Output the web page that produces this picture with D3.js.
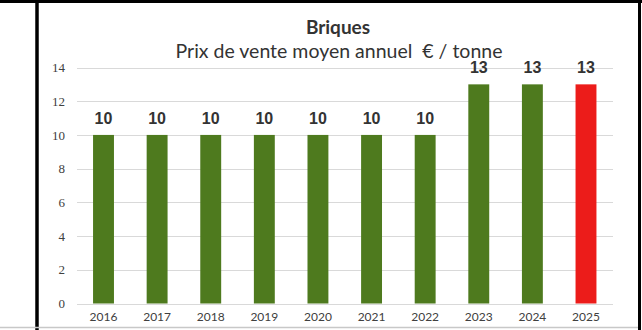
<!DOCTYPE html>
<html>
<head>
<meta charset="utf-8">
<script src="https://cdn.jsdelivr.net/npm/d3@7"></script>
<style>
  html, body { margin: 0; padding: 0; background: #fff; }
  svg { display: block; }
</style>
</head>
<body>
<svg id="chart" width="642" height="330"></svg>
<script>
// Average annual selling price of bricks, € per tonne
const years = ["2016", "2017", "2018", "2019", "2020", "2021", "2022", "2023", "2024", "2025"];
const prices = [10, 10, 10, 10, 10, 10, 10, 13, 13, 13];
const yTicks = [0, 2, 4, 6, 8, 10, 12, 14];
const highlightYear = "2025";
const title = "Briques";
const subtitle = "Prix de vente moyen annuel  € / tonne";

const data = years.map((y, i) => ({ year: y, value: prices[i] }));

const svg = d3.select("#chart");
const W = 642, H = 330;

svg.append("rect").attr("width", W).attr("height", H).attr("fill", "#fff");

// panel frame
const frame = svg.append("g");
frame.append("line").attr("x1", 0).attr("x2", W).attr("y1", 1.5).attr("y2", 1.5)
  .attr("stroke", "#000").attr("stroke-width", 3);
frame.append("line").attr("x1", 37).attr("x2", 37).attr("y1", 0).attr("y2", H)
  .attr("stroke", "#000").attr("stroke-width", 3.5);
frame.append("line").attr("x1", 639.5).attr("x2", 639.5).attr("y1", 0).attr("y2", H)
  .attr("stroke", "#000").attr("stroke-width", 3);
frame.append("line").attr("x1", 0).attr("x2", 638).attr("y1", 327.5).attr("y2", 327.5)
  .attr("stroke", "#c8c8c8").attr("stroke-width", 1.5);

// scales
const x = d3.scaleBand().domain(years).range([76.7, 612.8])
  .paddingInner(0.61).paddingOuter(0.305);
const y = d3.scaleLinear().domain([0, 14]).range([303.5, 67.5]);

// gridlines
svg.append("g").selectAll("line").data(yTicks).join("line")
  .attr("x1", 77).attr("x2", 613)
  .attr("y1", d => Math.round(y(d)) + 0.5).attr("y2", d => Math.round(y(d)) + 0.5)
  .attr("stroke", "#d9d9d9").attr("stroke-width", 1);

// y axis labels
const yAxis = d3.axisLeft(y).tickValues(yTicks).tickSize(0).tickPadding(0);
const yG = svg.append("g").attr("transform", "translate(65,0)").call(yAxis);
yG.select(".domain").remove();
yG.selectAll("text")
  .attr("font-family", "'Liberation Serif', serif")
  .attr("font-size", 13).attr("fill", "#404040");

// x axis labels
const xAxis = d3.axisBottom(x).tickSize(0).tickPadding(0);
const xG = svg.append("g").attr("transform", "translate(0,312)").call(xAxis);
xG.select(".domain").remove();
xG.selectAll("text")
  .attr("font-family", "Lato, sans-serif")
  .attr("font-size", 12).attr("fill", "#404040");

// bars
svg.append("g").selectAll("rect").data(data).join("rect")
  .attr("x", d => x(d.year))
  .attr("width", x.bandwidth())
  .attr("y", d => y(d.value))
  .attr("height", d => y(0) - y(d.value))
  .attr("fill", d => d.year === highlightYear ? "#ec1c1a" : "#4e7a1e");

// value labels
svg.append("g").selectAll("text").data(data).join("text")
  .attr("x", d => x(d.year) + x.bandwidth() / 2)
  .attr("y", d => y(d.value) - 11)
  .attr("text-anchor", "middle")
  .attr("font-family", "'Liberation Sans', Arial, sans-serif")
  .attr("font-weight", "bold").attr("font-size", 16)
  .attr("fill", "#333")
  .text(d => d.value);

// titles
svg.append("text").attr("x", 338).attr("y", 34).attr("text-anchor", "middle")
  .attr("font-family", "Lato, sans-serif").attr("font-weight", "bold")
  .attr("font-size", 19).attr("fill", "#333").text(title);
svg.append("text").attr("x", 339).attr("y", 58).attr("text-anchor", "middle")
  .style("white-space", "pre")
  .attr("font-family", "Lato, sans-serif")
  .attr("font-size", 19.5).attr("fill", "#333").text(subtitle);
</script>
</body>
</html>
